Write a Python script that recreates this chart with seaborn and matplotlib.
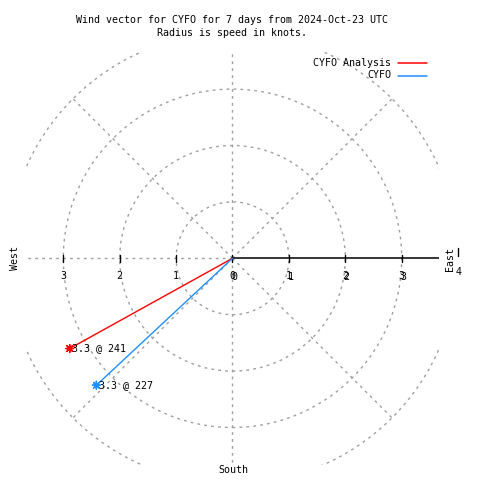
import numpy as np
import pandas as pd
import seaborn as sns
import matplotlib.pyplot as plt
from matplotlib.lines import Line2D

# ---------------------------------------------------------
# data: wind vectors (speed in knots, direction in degrees from north)
# ---------------------------------------------------------
series = ['CYFO Analysis', 'CYFO']
speeds = [3.3, 3.3]
directions = [241, 227]
colors = ['#ff0000', '#1e90ff']

rings = [1, 2, 3, 4]
spokes = [45, 90, 135, 180, 225, 270, 315]
left_ticks = [-3, -2, -1]
right_ticks = [0, 1, 2, 3]

title1 = 'Wind vector for CYFO for 7 days from 2024-Oct-23 UTC'
title2 = 'Radius is speed in knots.'

sns.set_theme(style='white')
plt.rcParams['font.family'] = ['DejaVu Sans Mono']
plt.rcParams['text.color'] = 'black'
FS = 7.2
GRID = '#a0a0a0'
DASH = (0, (2, 3))

# each vector is a segment from the origin to (x, y)
rows = []
for name, spd, d in zip(series, speeds, directions):
    x = spd * np.sin(np.radians(d))
    y = spd * np.cos(np.radians(d))
    rows.append({'series': name, 'x': 0.0, 'y': 0.0, 'end': False})
    rows.append({'series': name, 'x': x, 'y': y, 'end': True})
df = pd.DataFrame(rows)

fig = plt.figure(figsize=(4.8, 4.8), dpi=100)
# box is +-3.66 knots, 56.4 px per knot, centre at (232.5, 258.3) px
half = 3.66
scale = 56.4
w = 2 * half * scale / 480
left = (232.5 - half * scale) / 480
bottom = 1 - (258.3 + half * scale) / 480
ax = fig.add_axes([left, bottom, w, w])
ax.set_xlim(-half, half)
ax.set_ylim(-half, half)
ax.set_aspect('equal')
ax.set_axis_off()

# polar grid
for r in rings:
    ax.add_patch(plt.Circle((0, 0), r, fill=False, ec=GRID, lw=1, ls=DASH))
for a in spokes:
    ax.plot([0, 4 * np.cos(np.radians(a))], [0, 4 * np.sin(np.radians(a))],
            color=GRID, lw=1, ls=DASH)

# radial axis to the east
ax.plot([0, 4], [0, 0], color='black', lw=1.1)
for t in left_ticks + right_ticks:
    ax.plot([t, t], [-0.06, 0.06], color='black', lw=1)
ax.plot([4, 4], [0.04, 0.18], color='black', lw=1, clip_on=False)
for t in left_ticks:
    ax.text(t, -0.31, str(abs(t)), ha='center', va='center', fontsize=FS)
for t in right_ticks:
    ax.text(t, -0.31, str(t), ha='center', va='center', fontsize=FS)
    ax.text(t + 0.025, -0.33, str(t), ha='center', va='center', fontsize=FS)
ax.text(4, -0.24, '4', ha='center', va='center', fontsize=FS, clip_on=False)

# wind vectors
sns.lineplot(data=df, x='x', y='y', hue='series', palette=colors,
             hue_order=series, sort=False, estimator=None, lw=1,
             legend=False, ax=ax)
ends = df[df['end']]
sns.scatterplot(data=ends, x='x', y='y', hue='series', palette=colors,
                hue_order=series, marker=(8, 2, 0), s=32, linewidth=1.0,
                legend=False, ax=ax, clip_on=False)
for name, spd, d in zip(series, speeds, directions):
    e = ends[ends['series'] == name].iloc[0]
    ax.text(e['x'] + 0.04, e['y'], f'{spd:.1f} @ {d}', ha='left',
            va='center', fontsize=FS)

# compass labels, title, legend (figure pixel positions)
def fx(px):
    return px / 480

def fy(py):
    return 1 - py / 480

fig.text(fx(15), fy(258), 'West', rotation=90, ha='center', va='center', fontsize=FS)
fig.text(fx(450), fy(259), 'East', rotation=90, ha='center', va='center', fontsize=FS)
fig.text(fx(233), fy(470), 'South', ha='center', va='center', fontsize=FS)
fig.text(fx(232), fy(20), title1, ha='center', va='center', fontsize=FS)
fig.text(fx(232), fy(33), title2, ha='center', va='center', fontsize=FS)

for i, (name, c) in enumerate(zip(series, colors)):
    yy = 62.5 + 13 * i
    fig.text(fx(391), fy(yy), name, ha='right', va='center', fontsize=FS)
    fig.add_artist(Line2D([fx(398), fx(427)], [fy(yy), fy(yy)], color=c, lw=1.1))

plt.savefig('out.png', dpi=100)
